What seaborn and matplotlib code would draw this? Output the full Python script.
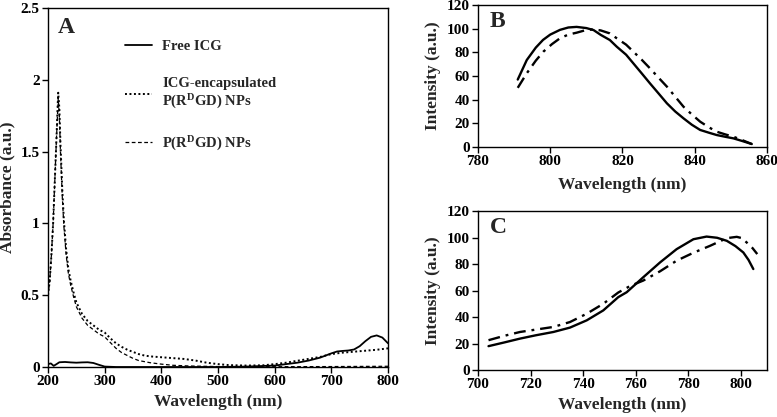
import matplotlib
matplotlib.use("Agg")
import matplotlib.pyplot as plt
import seaborn as sns
import pandas as pd

# ---------------- data ----------------
# Panel A: absorbance spectra
free_wl = [200, 205, 210, 215, 220, 230, 240, 250, 260, 270, 280, 290, 300, 320, 400, 500, 550, 600,
           620, 640, 660, 680, 700, 710, 720, 730, 740, 750, 760, 770, 780, 790, 800]
free_abs = [0.02, 0.025, 0.008, 0.02, 0.033, 0.035, 0.032, 0.03, 0.032, 0.033, 0.028, 0.015, 0.003, 0.0,
            0.0, 0.0, 0.003, 0.01, 0.02, 0.03, 0.045, 0.065, 0.095, 0.108, 0.112, 0.115, 0.122, 0.145,
            0.18, 0.21, 0.22, 0.205, 0.165]

enc_wl = [200, 203, 206, 209, 212, 215, 217, 218, 220, 222, 225, 228, 232, 236, 240, 245, 250, 260, 270,
          280, 290, 300, 310, 320, 330, 340, 350, 360, 370, 380, 400, 420, 440, 460, 480, 500, 520, 550,
          580, 600, 620, 650, 680, 700, 720, 750, 780, 800]
enc_abs = [0.5, 0.6, 0.78, 1.0, 1.3, 1.6, 1.82, 1.91, 1.8, 1.55, 1.25, 1.02, 0.82, 0.68, 0.6, 0.52, 0.45,
           0.37, 0.32, 0.29, 0.26, 0.24, 0.2, 0.165, 0.14, 0.12, 0.105, 0.09, 0.08, 0.074, 0.068, 0.062,
           0.056, 0.045, 0.03, 0.02, 0.013, 0.01, 0.012, 0.02, 0.03, 0.05, 0.07, 0.09, 0.1, 0.11, 0.12, 0.13]

np_wl = [200, 203, 206, 209, 212, 215, 217, 218, 220, 222, 225, 228, 232, 236, 240, 245, 250, 260, 270,
         280, 290, 300, 310, 320, 330, 340, 350, 360, 380, 400, 420, 450, 500, 600, 700, 800]
np_abs = [0.5, 0.6, 0.78, 1.0, 1.3, 1.6, 1.78, 1.87, 1.75, 1.5, 1.2, 0.98, 0.78, 0.65, 0.57, 0.49, 0.42,
          0.34, 0.29, 0.26, 0.23, 0.21, 0.17, 0.13, 0.1, 0.08, 0.06, 0.045, 0.03, 0.02, 0.012, 0.007,
          0.003, 0.002, 0.003, 0.005]

# Panel B: emission spectra
b_solid_wl = [791, 793.5, 796, 798, 800, 802.7, 805, 807.3, 810, 812, 814, 816.5, 818.4, 821, 823, 825.3,
              827.6, 830, 832.3, 834.6, 836.9, 839.2, 841.5, 844, 846.1, 848.5, 850.7, 853, 855.8]
b_solid_int = [57, 73.5, 84, 90.5, 95, 99, 101, 101.5, 100.5, 98.8, 94.7, 90.4, 84.8, 78, 70.7, 62.3,
               53.8, 45.2, 36.9, 30, 24.2, 18.8, 14.4, 12, 10.1, 8.6, 7.3, 5.2, 2.5]
b_dash_wl = [791, 793.5, 796, 798.1, 800.5, 802.7, 805, 807.3, 809.5, 811.9, 814, 816.5, 818.4, 821, 823,
             825.3, 827.6, 830, 832.3, 834.6, 836.9, 839.2, 841.5, 844, 846.1, 848.5, 850.7, 853, 855.8]
b_dash_int = [50, 62.3, 73, 80.6, 87, 91.9, 95, 96.6, 98.5, 99.5, 98.5, 96, 91.9, 86.5, 80.6, 73.8,
              66.5, 58.5, 51, 42.5, 34, 27.5, 21.4, 16.5, 12.9, 10.6, 8.7, 6, 2.5]

# Panel C: excitation spectra
c_solid_wl = [704, 710, 716, 722, 728.7, 735, 741.4, 747.7, 753.4, 756.6, 762.9, 769.3, 775.6, 782, 787,
              791, 794.7, 798, 801, 803, 804.8]
c_solid_int = [18, 20.8, 23.7, 26.2, 28.7, 32, 37.5, 45, 55, 58.7, 70, 81.2, 91.2, 98.7, 100.7, 99.8,
               97.5, 93.5, 88.7, 83, 76.2]
c_dash_wl = [704, 710, 716, 722, 728.7, 735, 741.4, 747.7, 753.4, 758, 762.9, 769.3, 775.6, 782, 788.3,
             794.7, 798.5, 800.5, 802.3, 804.5, 806.3]
c_dash_int = [22.5, 25.8, 28.7, 30.5, 32.5, 36.2, 42.5, 50, 58.5, 63.5, 67.5, 74.5, 82.5, 88.5, 93.7,
              99.5, 100.5, 99.5, 96.2, 92, 87.5]

labels_a = ["Free ICG", "ICG-encapsulated\nP(R$^{\\mathbf{D}}$GD) NPs", "P(R$^{\\mathbf{D}}$GD) NPs"]

# ---------------- style ----------------
sns.set_theme(style="ticks")
plt.rcParams["font.family"] = ["Liberation Serif", "DejaVu Serif"]
plt.rcParams["font.weight"] = "bold"
plt.rcParams["axes.labelweight"] = "bold"
plt.rcParams["mathtext.fontset"] = "custom"
plt.rcParams["mathtext.bf"] = "Liberation Serif:bold"
plt.rcParams["mathtext.rm"] = "Liberation Serif:bold"
plt.rcParams["mathtext.default"] = "bf"

fig = plt.figure(figsize=(7.77, 4.17), dpi=100)
axA = fig.add_axes([0.0618, 0.1199, 0.4376, 0.8609])
axB = fig.add_axes([0.6152, 0.6475, 0.3719, 0.3405])
axC = fig.add_axes([0.6152, 0.1127, 0.3719, 0.3813])

def style_axes(ax):
    for s in ax.spines.values():
        s.set_visible(True)
        s.set_color("black")
        s.set_linewidth(1.0)
    ax.tick_params(axis="both", direction="out", length=4, width=1, colors="black",
                   labelsize=11, pad=2)
    for lab in ax.get_xticklabels() + ax.get_yticklabels():
        lab.set_fontweight("bold")
    ax.grid(False)
    ax.set_facecolor("white")

# Panel A
dfa1 = pd.DataFrame({"wl": free_wl, "a": free_abs})
dfa2 = pd.DataFrame({"wl": enc_wl, "a": enc_abs})
dfa3 = pd.DataFrame({"wl": np_wl, "a": np_abs})
sns.lineplot(data=dfa1, x="wl", y="a", ax=axA, color="black", lw=1.3, linestyle="-", label=labels_a[0])
sns.lineplot(data=dfa2, x="wl", y="a", ax=axA, color="black", lw=1.4, linestyle=(0, (1, 1.3)), label=labels_a[1])
sns.lineplot(data=dfa3, x="wl", y="a", ax=axA, color="black", lw=0.9, linestyle=(0, (3, 2)), label=labels_a[2])
axA.set_xlim(200, 800)
axA.set_ylim(0, 2.5)
axA.set_xticks([200, 300, 400, 500, 600, 700, 800])
axA.set_yticks([0, 0.5, 1, 1.5, 2, 2.5])
axA.set_yticklabels(["0", "0.5", "1", "1.5", "2", "2.5"])
axA.set_xlabel("Wavelength (nm)", fontsize=12.5, fontweight="bold", labelpad=4)
axA.set_ylabel("Absorbance (a.u.)", fontsize=12.5, fontweight="bold", labelpad=4)
style_axes(axA)
axA.text(0.03, 0.975, "A", transform=axA.transAxes, fontsize=17, fontweight="bold", va="top", ha="left")
leg = axA.legend(loc="upper left", bbox_to_anchor=(0.209, 0.927), frameon=False, fontsize=10.5,
                 handlelength=1.85, handletextpad=0.7, labelspacing=1.62, borderaxespad=0)
for t in leg.get_texts():
    t.set_fontweight("bold")

# Panel B
dfb1 = pd.DataFrame({"wl": b_solid_wl, "i": b_solid_int})
dfb2 = pd.DataFrame({"wl": b_dash_wl, "i": b_dash_int})
sns.lineplot(data=dfb1, x="wl", y="i", ax=axB, color="black", lw=1.7, linestyle="-")
sns.lineplot(data=dfb2, x="wl", y="i", ax=axB, color="black", lw=1.7, linestyle=(0, (5, 2.5, 1.2, 2.5)))
axB.set_xlim(780, 860)
axB.set_ylim(0, 120)
axB.set_xticks([780, 800, 820, 840, 860])
axB.set_yticks(range(0, 121, 20))
axB.set_xlabel("Wavelength (nm)", fontsize=12.5, fontweight="bold", labelpad=6)
axB.set_ylabel("Intensity (a.u.)", fontsize=12.5, fontweight="bold", labelpad=4)
style_axes(axB)
axB.text(0.04, 0.96, "B", transform=axB.transAxes, fontsize=17, fontweight="bold", va="top", ha="left")

# Panel C
dfc1 = pd.DataFrame({"wl": c_solid_wl, "i": c_solid_int})
dfc2 = pd.DataFrame({"wl": c_dash_wl, "i": c_dash_int})
sns.lineplot(data=dfc1, x="wl", y="i", ax=axC, color="black", lw=1.7, linestyle="-")
sns.lineplot(data=dfc2, x="wl", y="i", ax=axC, color="black", lw=1.7, linestyle=(0, (5, 2.5, 1.2, 2.5)))
axC.set_xlim(700, 810)
axC.set_ylim(0, 120)
axC.set_xticks([700, 720, 740, 760, 780, 800])
axC.set_yticks(range(0, 121, 20))
axC.set_xlabel("Wavelength (nm)", fontsize=12.5, fontweight="bold", labelpad=4)
axC.set_ylabel("Intensity (a.u.)", fontsize=12.5, fontweight="bold", labelpad=4)
style_axes(axC)
axC.text(0.04, 0.96, "C", transform=axC.transAxes, fontsize=17, fontweight="bold", va="top", ha="left")

fig.savefig("out.png", dpi=100, facecolor="white")
